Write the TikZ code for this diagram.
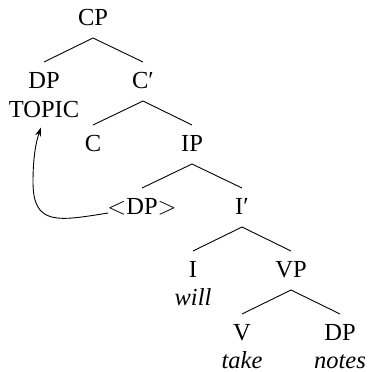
\documentclass[tikz,border=0pt]{standalone}
\usepackage{fontspec}
\setmainfont{Liberation Serif}
\newfontfamily\timesfont{Liberation Serif}
\usetikzlibrary{arrows.meta}
\begin{document}
\begin{tikzpicture}[x=1pt,y=-1pt,
  lab/.style={anchor=base,inner sep=0pt,font=\timesfont\fontsize{24.5}{29}\selectfont},
  word/.style={anchor=base,inner sep=0pt,font=\timesfont\fontsize{24.5}{29}\selectfont\itshape},
  branch/.style={line width=0.9pt},
  move/.style={line width=0.9pt,-{Stealth[length=9pt,width=6pt]}}]
\useasboundingbox (0,0) rectangle (368,372);
% labels
\node[lab] (cp)    at (93,25)   {CP};
\node[lab] (dp)    at (44,88)   {DP};
\node[lab] (topic) at (44,117)  {TOPIC};
\node[lab] (cbar)  at (143,88)  {C′};
\node[lab] (c)     at (93,151)  {C};
\node[lab] (ip)    at (192,151) {IP};
\node[lab] (trace) at (142,214) {$<$DP$>$};
\node[lab] (ibar)  at (242,214) {I′};
\node[lab] (i)     at (193,277) {I};
\node[word] (will) at (193,305) {will};
\node[lab] (vp)    at (291,277) {VP};
\node[lab] (v)     at (242,340) {V};
\node[word] (take) at (242,368) {take};
\node[lab] (obj)   at (340,340) {DP};
\node[word] (notes) at (340,368) {notes};
% branches
\draw[branch] ([yshift=26pt]dp.base) -- ([yshift=-13pt]cp.base) -- ([yshift=26pt]cbar.base);
\draw[branch] ([yshift=26pt]c.base) -- ([yshift=-13pt]cbar.base) -- ([yshift=26pt]ip.base);
\draw[branch] ([yshift=26pt]trace.base) -- ([yshift=-13pt]ip.base) -- ([yshift=26pt]ibar.base);
\draw[branch] ([yshift=26pt]i.base) -- ([yshift=-13pt]ibar.base) -- ([yshift=26pt]vp.base);
\draw[branch] ([yshift=26pt]v.base) -- ([yshift=-13pt]vp.base) -- ([yshift=26pt]obj.base);
% movement arrow
\draw[move] ([shift={(1pt,1pt)}]trace.base west) .. controls (58,221) and (33,226) .. (33,182)
  .. controls (33,157) and (36,142) .. ([shift={(-3pt,-10pt)}]topic.south);
\end{tikzpicture}
\end{document}
